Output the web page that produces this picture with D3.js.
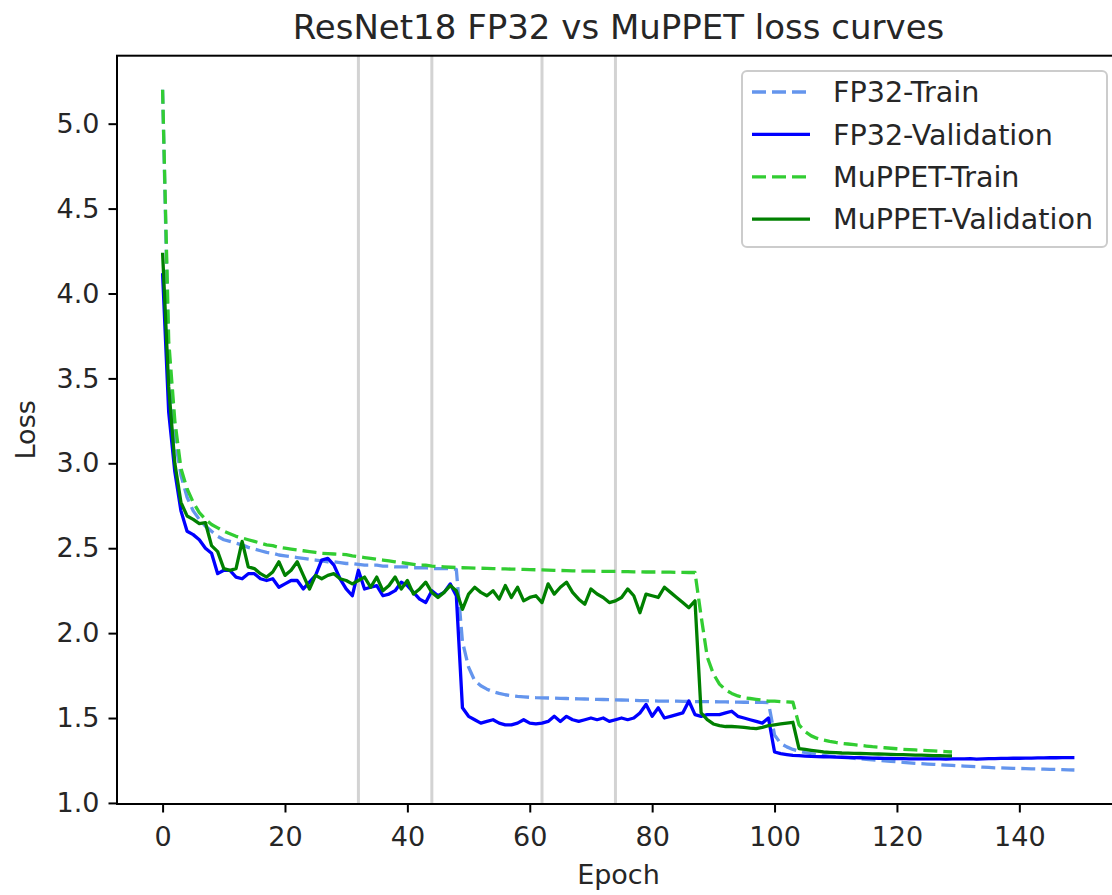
<!DOCTYPE html>
<html><head><meta charset="utf-8">
<script src="https://cdn.jsdelivr.net/npm/d3@7"></script>
<style>body{margin:0;background:#fff}svg{display:block}</style>
</head><body><svg id="chart" width="1112" height="895"></svg>
<script>
// ---- data ----
const fp32Train = [
5.20,3.60,3.15,2.93,2.80,2.72,2.67,2.63,2.60,2.57,
2.55,2.54,2.53,2.52,2.505,2.495,2.485,2.475,2.47,2.46,
2.455,2.45,2.445,2.44,2.435,2.43,2.425,2.42,2.42,2.415,
2.41,2.41,2.405,2.40,2.40,2.40,2.395,2.395,2.39,2.39,
2.39,2.385,2.385,2.385,2.38,2.38,2.38,2.38,2.375,1.95,
1.80,1.72,1.69,1.67,1.655,1.645,1.637,1.632,1.628,1.625,
1.622,1.62,1.619,1.618,1.617,1.616,1.615,1.614,1.613,1.612,
1.611,1.61,1.609,1.608,1.607,1.606,1.605,1.604,1.603,1.602,
1.601,1.60,1.60,1.599,1.599,1.598,1.598,1.597,1.597,1.596,
1.596,1.595,1.595,1.594,1.594,1.593,1.593,1.592,1.592,1.591,
1.40,1.35,1.33,1.315,1.305,1.297,1.29,1.285,1.28,1.276,
1.272,1.268,1.265,1.262,1.26,1.257,1.254,1.251,1.248,1.245,
1.242,1.239,1.236,1.233,1.231,1.229,1.227,1.225,1.223,1.221,
1.219,1.217,1.215,1.213,1.211,1.209,1.207,1.206,1.205,1.204,
1.203,1.202,1.201,1.200,1.199,1.198,1.197,1.196,1.195,1.194];

const fp32Val = [
4.12,3.30,2.95,2.72,2.60,2.58,2.55,2.50,2.47,2.35,
2.37,2.37,2.33,2.32,2.35,2.35,2.32,2.31,2.32,2.27,
2.29,2.31,2.31,2.26,2.30,2.34,2.43,2.44,2.40,2.32,
2.26,2.22,2.37,2.26,2.27,2.28,2.22,2.23,2.25,2.30,
2.28,2.24,2.20,2.18,2.25,2.22,2.24,2.29,2.22,1.56,
1.51,1.49,1.47,1.48,1.49,1.47,1.46,1.46,1.47,1.49,
1.47,1.465,1.47,1.48,1.51,1.48,1.51,1.49,1.48,1.49,
1.50,1.49,1.50,1.48,1.49,1.50,1.49,1.50,1.53,1.58,
1.51,1.56,1.50,1.51,1.52,1.53,1.60,1.52,1.51,1.52,
1.52,1.52,1.53,1.54,1.51,1.50,1.49,1.48,1.47,1.50,
1.30,1.29,1.285,1.28,1.278,1.276,1.274,1.273,1.272,1.271,
1.27,1.269,1.268,1.267,1.266,1.265,1.264,1.263,1.262,1.262,
1.261,1.261,1.26,1.26,1.259,1.259,1.26,1.259,1.258,1.259,
1.26,1.26,1.261,1.258,1.26,1.261,1.261,1.262,1.262,1.263,
1.263,1.264,1.264,1.265,1.265,1.266,1.266,1.267,1.267,1.267];

const muppetTrain = [
5.20,3.72,3.25,2.97,2.85,2.77,2.71,2.67,2.64,2.62,
2.60,2.585,2.57,2.56,2.55,2.54,2.53,2.52,2.515,2.505,
2.50,2.495,2.49,2.485,2.48,2.475,2.47,2.468,2.466,2.464,
2.462,2.455,2.45,2.445,2.44,2.435,2.43,2.425,2.42,2.415,
2.41,2.405,2.40,2.40,2.395,2.392,2.39,2.388,2.386,2.385,
2.384,2.383,2.382,2.381,2.38,2.379,2.378,2.377,2.376,2.375,
2.374,2.373,2.372,2.371,2.37,2.369,2.368,2.367,2.366,2.365,
2.365,2.364,2.364,2.363,2.363,2.362,2.362,2.361,2.361,2.36,
2.36,2.36,2.359,2.359,2.358,2.358,2.357,2.357,2.10,1.86,
1.76,1.70,1.665,1.645,1.63,1.62,1.615,1.61,1.605,1.60,
1.60,1.597,1.595,1.593,1.46,1.42,1.395,1.38,1.37,1.362,
1.356,1.351,1.347,1.343,1.339,1.335,1.331,1.328,1.325,1.322,
1.319,1.316,1.314,1.312,1.31,1.308,1.306,1.304,1.302,1.30];

const muppetVal = [
4.24,3.45,3.00,2.77,2.69,2.67,2.645,2.65,2.515,2.48,
2.38,2.37,2.38,2.54,2.39,2.38,2.35,2.33,2.36,2.42,
2.34,2.37,2.42,2.34,2.26,2.34,2.32,2.34,2.35,2.32,
2.31,2.29,2.31,2.33,2.27,2.33,2.25,2.28,2.33,2.26,
2.31,2.23,2.26,2.30,2.24,2.21,2.24,2.28,2.25,2.14,
2.23,2.27,2.24,2.22,2.25,2.20,2.28,2.21,2.27,2.19,
2.21,2.22,2.18,2.29,2.23,2.27,2.30,2.24,2.20,2.17,
2.26,2.23,2.21,2.18,2.19,2.21,2.26,2.22,2.12,2.23,
2.22,2.21,2.27,2.24,2.21,2.18,2.15,2.19,1.53,1.49,
1.465,1.455,1.45,1.45,1.448,1.445,1.44,1.438,1.445,1.455,
1.46,1.465,1.47,1.475,1.32,1.315,1.31,1.305,1.30,1.298,
1.296,1.294,1.293,1.292,1.291,1.29,1.289,1.288,1.287,1.286,
1.285,1.284,1.283,1.282,1.281,1.28,1.279,1.278,1.277,1.277];

const switchEpochs = [32, 44, 62, 74];
const xTickValues = [0, 20, 40, 60, 80, 100, 120, 140];
const yTickValues = [1.0, 1.5, 2.0, 2.5, 3.0, 3.5, 4.0, 4.5, 5.0];
const seriesNames = ["FP32-Train", "FP32-Validation", "MuPPET-Train", "MuPPET-Validation"];
const seriesData = [fp32Train, fp32Val, muppetTrain, muppetVal];
const titleText = "ResNet18 FP32 vs MuPPET loss curves";
const xLabel = "Epoch";
const yLabel = "Loss";

// ---- styles ----
const styles = [
  {color: "#6495ED", dash: "14,6"},
  {color: "#0000FF", dash: null},
  {color: "#32CD32", dash: "14,6"},
  {color: "#008000", dash: null}
];
const FONT = "DejaVu Sans, sans-serif";

// ---- layout ----
const M = {left: 117, right: 1120, top: 55.7, bottom: 804};
const svg = d3.select("#chart");

const maxEpoch = d3.max(seriesData, s => s.length - 1);
const xPad = 0.05 * maxEpoch;
const x = d3.scaleLinear().domain([0 - xPad, maxEpoch + xPad]).range([M.left, M.right]);
const yMin = d3.min(seriesData, s => d3.min(s));
const yMax = d3.max(seriesData, s => d3.max(s));
const yPad = 0.05 * (yMax - yMin);
const y = d3.scaleLinear().domain([yMin - yPad, yMax + yPad]).range([M.bottom, M.top]);

// vertical switch lines
svg.append("g").selectAll("line").data(switchEpochs).join("line")
  .attr("x1", d => x(d)).attr("x2", d => x(d))
  .attr("y1", M.top).attr("y2", M.bottom)
  .attr("stroke", "#d3d3d3").attr("stroke-width", 3);

// series
const line = d3.line().x((d, i) => x(i)).y(d => y(d));
svg.append("clipPath").attr("id", "clip").append("rect")
  .attr("x", M.left).attr("y", M.top).attr("width", M.right - M.left).attr("height", M.bottom - M.top);
svg.append("g").attr("clip-path", "url(#clip)")
  .selectAll("path").data(seriesData).join("path")
  .attr("d", d => line(d))
  .attr("fill", "none")
  .attr("stroke", (d, i) => styles[i].color)
  .attr("stroke-width", 3.3)
  .attr("stroke-linejoin", "round")
  .attr("stroke-dasharray", (d, i) => styles[i].dash);

// axes
const xAxis = svg.append("g").attr("transform", `translate(0,${M.bottom})`)
  .call(d3.axisBottom(x).tickValues(xTickValues).tickSize(8.5).tickPadding(9).tickSizeOuter(0));
const yAxis = svg.append("g").attr("transform", `translate(${M.left},0)`)
  .call(d3.axisLeft(y).tickValues(yTickValues).tickFormat(d3.format(".1f")).tickSize(8.5).tickPadding(9).tickSizeOuter(0));
[xAxis, yAxis].forEach(a => {
  a.select(".domain").remove();
  a.selectAll(".tick line").attr("stroke", "#000").attr("stroke-width", 2);
  a.selectAll(".tick text").attr("font-family", FONT).attr("font-size", 27).attr("fill", "#262626");
});
xAxis.selectAll(".tick text").attr("dy", "0.92em");
// spines
svg.append("rect").attr("x", M.left).attr("y", M.top)
  .attr("width", M.right - M.left).attr("height", M.bottom - M.top)
  .attr("fill", "none").attr("stroke", "#000").attr("stroke-width", 2);

// title & labels
svg.append("text").attr("x", (M.left + M.right) / 2).attr("y", 39)
  .attr("text-anchor", "middle").attr("font-family", FONT).attr("font-size", 34)
  .attr("fill", "#262626").text(titleText);
svg.append("text").attr("x", (M.left + M.right) / 2).attr("y", 884)
  .attr("text-anchor", "middle").attr("font-family", FONT).attr("font-size", 27)
  .attr("fill", "#262626").text(xLabel);
svg.append("text").attr("transform", `translate(35,${(M.top + M.bottom) / 2}) rotate(-90)`)
  .attr("text-anchor", "middle").attr("font-family", FONT).attr("font-size", 27)
  .attr("fill", "#262626").text(yLabel);

// legend
const lg = svg.append("g");
lg.append("rect").attr("x", 742).attr("y", 71).attr("width", 365).attr("height", 176)
  .attr("rx", 5).attr("fill", "#fff").attr("fill-opacity", 0.8)
  .attr("stroke", "#cccccc").attr("stroke-width", 2);
const rows = lg.selectAll("g.row").data(seriesNames).join("g").attr("class", "row")
  .attr("transform", (d, i) => `translate(0,${92 + i * 42.4})`);
rows.append("line").attr("x1", 752).attr("x2", 810).attr("y1", 0).attr("y2", 0)
  .attr("stroke", (d, i) => styles[i].color).attr("stroke-width", 3.3)
  .attr("stroke-dasharray", (d, i) => styles[i].dash);
rows.append("text").attr("x", 833).attr("y", 0).attr("dy", "0.36em")
  .attr("font-family", FONT).attr("font-size", 28.6).attr("fill", "#262626").text(d => d);
</script></body></html>
